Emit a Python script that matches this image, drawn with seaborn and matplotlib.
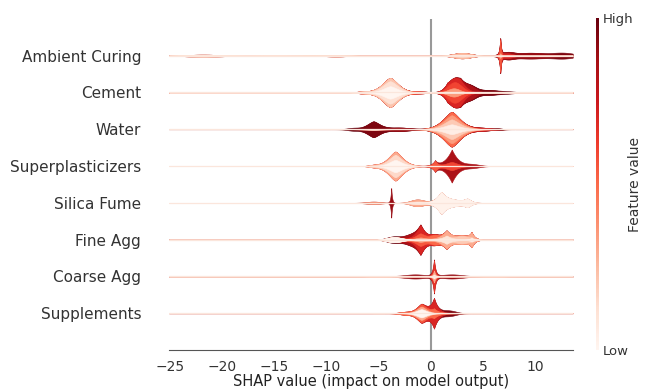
import numpy as np
import matplotlib
matplotlib.use("Agg")
import matplotlib.pyplot as plt
import seaborn as sns

# features, top to bottom
features = ["Ambient Curing", "Cement", "Water", "Superplasticizers",
            "Silica Fume", "Fine Agg", "Coarse Agg", "Supplements"]

# shape of each violin:
# (shap value, spread, feature level 0-1, half height, peak sharpness)
ambient_curing = [
    (-22.0, 2.5, 0.10, 0.020, 2), (-15.0, 6.0, 0.10, 0.010, 2), (-9.0, 1.5, 0.15, 0.015, 2),
    (3.0, 1.2, 0.05, 0.020, 2), (3.0, 1.2, 0.25, 0.045, 2),
    (6.65, 0.10, 0.30, 0.06, 1), (6.65, 0.08, 0.55, 0.34, 1),
    (7.3, 0.8, 0.70, 0.06, 2), (9.5, 2.5, 0.90, 0.07, 2), (12.8, 1.5, 0.95, 0.06, 2),
]
cement = [
    (-6.5, 1.0, 0.15, 0.02, 2),
    (-3.9, 1.0, 0.00, 0.15, 1.6), (-3.9, 1.1, 0.12, 0.12, 1.6), (-3.9, 1.2, 0.22, 0.08, 1.6),
    (-1.0, 1.2, 0.50, 0.02, 2),
    (2.2, 0.8, 0.35, 0.10, 2), (2.4, 1.0, 0.60, 0.15, 2), (2.5, 1.2, 0.70, 0.10, 2),
    (1.6, 0.3, 0.65, 0.05, 1), (2.8, 0.3, 0.70, 0.05, 1),
    (3.8, 0.8, 0.85, 0.12, 2), (5.5, 1.5, 0.95, 0.06, 2), (7.5, 1.0, 1.00, 0.02, 2),
]
water = [
    (-5.5, 1.0, 0.05, 0.01, 2),
    (-7.5, 0.8, 1.00, 0.03, 2), (-5.5, 0.9, 0.95, 0.18, 1.5), (-3.0, 1.5, 0.90, 0.04, 2),
    (2.0, 1.1, 0.05, 0.12, 1.5), (2.0, 1.2, 0.20, 0.12, 1.5), (2.0, 1.3, 0.35, 0.10, 1.5),
    (2.0, 1.2, 0.50, 0.08, 1.5), (5.0, 1.2, 0.70, 0.03, 2), (6.5, 0.5, 0.95, 0.015, 2),
]
superplasticizers = [
    (-5.5, 0.6, 0.20, 0.02, 2),
    (-3.4, 0.9, 0.00, 0.15, 1.5), (-3.4, 1.0, 0.15, 0.12, 1.5), (-3.4, 1.1, 0.30, 0.08, 1.5),
    (0.4, 0.3, 0.55, 0.12, 1),
    (2.0, 0.8, 0.60, 0.10, 1.5), (2.0, 0.6, 0.85, 0.30, 1), (4.0, 1.0, 0.85, 0.04, 2),
]
silica_fume = [
    (-5.5, 1.0, 0.35, 0.03, 2), (-3.8, 0.08, 0.90, 0.38, 1),
    (-1.3, 0.9, 0.05, 0.03, 2), (-1.3, 0.9, 0.30, 0.05, 2),
    (1.0, 0.6, 0.02, 0.25, 1.2), (2.2, 1.0, 0.02, 0.06, 2), (3.5, 0.5, 0.02, 0.09, 1.5),
]
fine_agg = [
    (-3.5, 1.0, 0.00, 0.06, 2), (-3.5, 1.0, 1.00, 0.02, 2),
    (-2.0, 0.8, 0.85, 0.08, 2), (-1.0, 0.7, 0.30, 0.05, 1.5), (-1.0, 0.7, 0.55, 0.10, 1.5),
    (-1.0, 0.5, 0.70, 0.20, 1),
    (0.3, 0.6, 0.50, 0.08, 2), (1.5, 0.6, 0.10, 0.10, 1), (1.5, 0.7, 0.30, 0.12, 1.2),
    (3.0, 0.8, 0.20, 0.08, 2), (3.9, 0.3, 0.05, 0.04, 1), (3.9, 0.3, 0.30, 0.12, 1),
]
coarse_agg = [
    (-5.0, 2.0, 0.20, 0.01, 2), (6.0, 2.0, 0.20, 0.01, 2),
    (0.3, 0.15, 0.05, 0.05, 1), (0.3, 0.15, 0.30, 0.10, 1), (0.3, 0.15, 0.65, 0.25, 1),
    (-1.5, 1.5, 0.90, 0.05, 2), (2.0, 1.5, 0.90, 0.05, 2),
]
supplements = [
    (-2.5, 0.8, 0.50, 0.03, 2),
    (-0.9, 0.7, 0.00, 0.10, 1.5), (-0.9, 0.7, 0.30, 0.06, 1.5), (-0.9, 0.7, 0.55, 0.05, 1.5),
    (0.3, 0.5, 0.50, 0.10, 1), (0.3, 0.4, 0.70, 0.25, 1), (1.8, 0.9, 0.95, 0.06, 2),
]
blobs = [ambient_curing, cement, water, superplasticizers,
         silica_fume, fine_agg, coarse_agg, supplements]

cbar_labels = ["Low", "High"]

sns.set_style("white")
cmap = sns.color_palette("Reds", as_cmap=True)

fig = plt.figure(figsize=(6.45, 3.92), dpi=100)
ax = fig.add_axes([0.262, 0.107, 0.626, 0.845])

xs = np.linspace(-25.1, 13.6, 3000)
scale = 1.12


def bump(x, c, w, h, p):
    return h * np.exp(-np.abs((x - c) / w) ** p)


n = len(features)
for i, blob in enumerate(blobs):
    y0 = n - 1 - i
    levels = sorted(set(b[2] for b in blob))
    total = np.zeros_like(xs)
    layers = []
    for lv in levels:
        for c, w, l, h, p in blob:
            if l == lv:
                total = total + scale * bump(xs, c, w, h, p)
        layers.append((lv, total.copy()))
    # outer envelope first (highest level), inner layers drawn on top
    for lv, ys in reversed(layers):
        col = cmap(lv)
        ax.fill_between(xs, y0 - ys, y0 + ys, facecolor=col, edgecolor=col, lw=0.4)
    ax.axhline(y0, color="#fbe6dc", lw=0.9)

ax.axvline(0, color="#999999", lw=1.5, zorder=-1)

ax.set_xlim(-25.1, 13.6)
ax.set_ylim(-1, n)
ax.set_yticks(range(n))
ax.set_yticklabels(features[::-1], fontsize=11, color="#333333")
ax.tick_params(axis="y", length=0, pad=20)
ax.set_xticks([-25, -20, -15, -10, -5, 0, 5, 10])
ax.tick_params(axis="x", labelsize=10, length=4, color="#555555", labelcolor="#333333")
ax.set_xlabel("SHAP value (impact on model output)", fontsize=10.5, color="#222222", labelpad=0)
sns.despine(ax=ax, left=True)
ax.spines["bottom"].set_color("#555555")

cax = fig.add_axes([0.924, 0.107, 0.0047, 0.847])
sm = plt.cm.ScalarMappable(cmap=cmap, norm=plt.Normalize(0, 1))
cb = fig.colorbar(sm, cax=cax, ticks=[0, 1])
cb.set_ticklabels(cbar_labels)
cb.ax.tick_params(length=0, labelsize=9.5, pad=3, labelcolor="#333333")
cb.set_label("Feature value", size=10, labelpad=-4, color="#333333")
cb.outline.set_visible(False)

fig.savefig("out.png", dpi=100)
